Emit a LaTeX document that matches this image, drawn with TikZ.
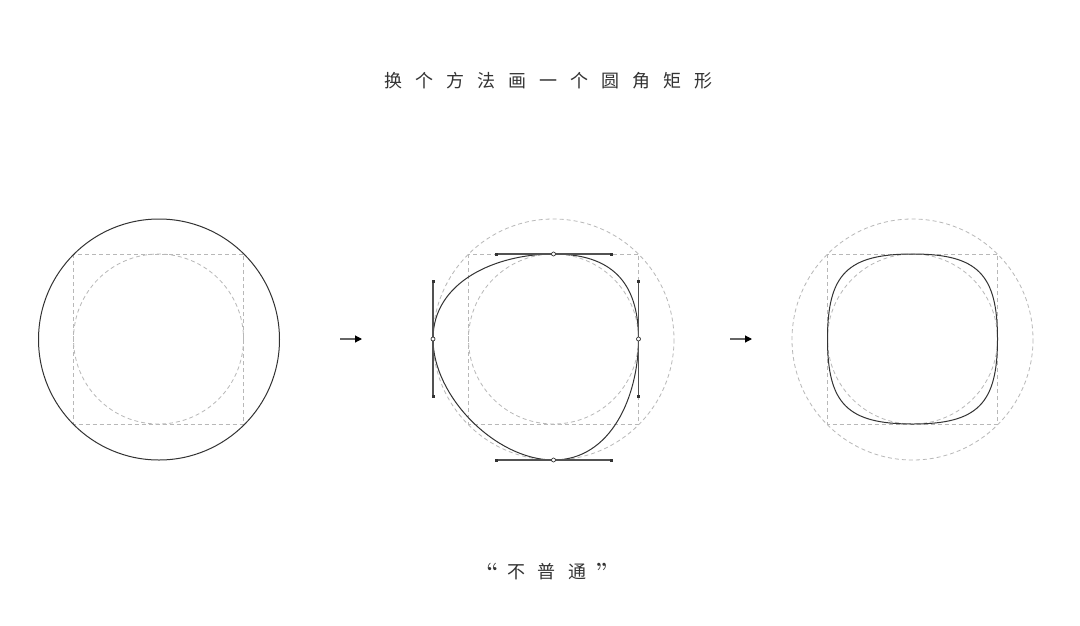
\documentclass[tikz,border=0pt]{standalone}
\usepackage{fontspec}
\newfontfamily\cjk{Noto Sans CJK SC}
\usetikzlibrary{arrows.meta}
\definecolor{ink}{HTML}{333333}
\definecolor{guide}{HTML}{B8B8B8}
\newcommand\cbox[2][31pt]{\makebox[#1]{#2}}
\newcommand\qmark[1]{{\rmfamily\bfseries\fontsize{22}{22}\selectfont #1}}
\begin{document}
\begin{tikzpicture}[x=1pt,y=-1pt,
 guideline/.style={draw=guide,line width=0.8pt,dash pattern=on 4pt off 3pt},
 shapeline/.style={draw=ink,line width=1pt},
 handleline/.style={draw=ink!85,line width=1.1pt},
 anchorpt/.style={circle,draw=ink,fill=white,inner sep=0pt,minimum size=4pt,line width=0.7pt},
 handlept/.style={rectangle,fill=ink,inner sep=0pt,minimum size=3pt},
 cjktext/.style={text=ink,font=\cjk\fontsize{18}{18}\selectfont,inner sep=0pt},
 arrowline/.style={draw=ink!75,line width=1.1pt,-{Triangle[length=7pt,width=7pt,color=black]}}]
\useasboundingbox (0,0) rectangle (1080,625);
\fill[white] (0,0) rectangle (1080,625);

% titles
\node[cjktext] (title) at (548.5,81) {\cbox{换}\cbox{个}\cbox{方}\cbox{法}\cbox{画}\cbox{一}\cbox{个}\cbox{圆}\cbox{角}\cbox{矩}\cbox{形}};
\node[cjktext] (caption) at (547,572) {\cbox[16pt]{\qmark{\textquotedblleft}}\cbox{不}\cbox{普}\cbox{通}\cbox[16pt]{\qmark{\textquotedblright}}};

% left figure
\draw[guideline] (73.5,254) rectangle (243.5,424);
\draw[guideline] (158.5,339) circle (85);
\draw[shapeline] (159,339.5) circle (120.5);

% middle figure
\draw[guideline] (468.5,254) rectangle (638.5,424);
\draw[guideline] (553.5,339) circle (85);
\draw[guideline] (553.5,339.5) circle (120.5);
\coordinate (mT) at (553.5,254);
\coordinate (mR) at (638.5,339);
\coordinate (mB) at (553.5,460);
\coordinate (mL) at (433,339);
\coordinate (mTl) at (496,254);
\coordinate (mTr) at (611,254);
\coordinate (mRt) at (638.5,281.5);
\coordinate (mRb) at (638.5,396.5);
\coordinate (mBl) at (496,460);
\coordinate (mBr) at (611,460);
\coordinate (mLt) at (433,281.5);
\coordinate (mLb) at (433,396.5);
\draw[shapeline] (mT) .. controls (mTr) and (mRt) .. (mR)
  .. controls (mRb) and (mBr) .. (mB)
  .. controls (mBl) and (mLb) .. (mL)
  .. controls (mLt) and (mTl) .. cycle;
\draw[handleline] (mTl) -- (mTr);
\draw[handleline] (mBl) -- (mBr);
\draw[handleline] (mLt) -- (mLb);
\draw[handleline] (mRt) -- (mRb);
\foreach \h in {mTl,mTr,mBl,mBr,mLt,mLb,mRt,mRb}
  \node[handlept] (hp-\h) at (\h) {};
\foreach \a in {mT,mR,mB,mL}
  \node[anchorpt] (ap-\a) at (\a) {};

% right figure
\draw[guideline] (827.5,254) rectangle (997.5,424);
\draw[guideline] (912.5,339) circle (85);
\draw[guideline] (912.5,339.5) circle (120.5);
\coordinate (rT) at (912.5,254);
\coordinate (rR) at (997.5,339);
\coordinate (rB) at (912.5,424);
\coordinate (rL) at (827.5,339);
\draw[shapeline] (rT) .. controls (977.5,254) and (997.5,274) .. (rR)
  .. controls (997.5,404) and (977.5,424) .. (rB)
  .. controls (847.5,424) and (827.5,404) .. (rL)
  .. controls (827.5,274) and (847.5,254) .. cycle;

% arrows
\coordinate (a1s) at (340,339);
\coordinate (a1e) at (362,339);
\coordinate (a2s) at (730,339);
\coordinate (a2e) at (752,339);
\draw[arrowline] (a1s) -- (a1e);
\draw[arrowline] (a2s) -- (a2e);
\end{tikzpicture}
\end{document}
